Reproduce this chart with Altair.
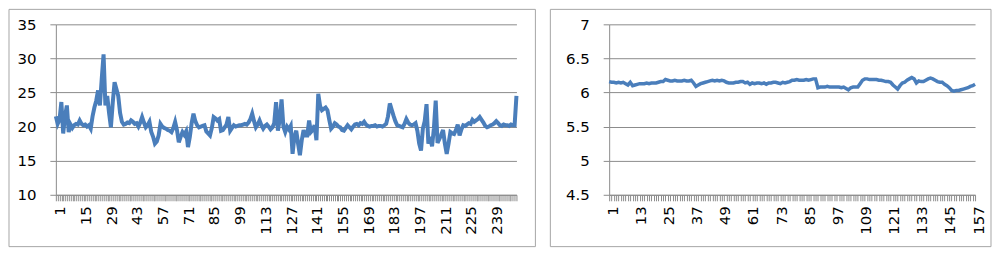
import altair as alt
import pandas as pd

# Left panel series (252 points)
left_values = [
    21.5, 20.4, 21.0, 23.6, 19.0, 21.5, 23.1, 19.2, 20.3, 19.8,
    20.2, 20.4, 20.3, 20.9, 20.4, 20.2, 20.3, 20.0, 20.2, 19.7,
    21.5, 22.8, 23.8, 25.3, 23.1, 27.0, 30.6, 23.1, 24.5, 22.0,
    19.9, 23.5, 26.5, 25.5, 24.5, 22.0, 20.7, 20.3, 20.4, 20.6,
    20.5, 20.9, 20.7, 20.4, 20.5, 20.0, 20.6, 21.4, 20.6, 19.9,
    20.2, 20.7, 19.2, 18.5, 17.5, 17.8, 18.7, 20.4, 20.0, 19.8,
    19.7, 19.5, 19.4, 19.2, 19.8, 20.7, 19.5, 17.7, 18.5, 19.2,
    18.8, 19.3, 17.0, 18.5, 20.5, 21.9, 20.8, 20.2, 19.9, 20.0,
    20.1, 20.2, 19.3, 19.0, 18.7, 19.8, 21.4, 21.2, 20.9, 21.1,
    19.4, 19.5, 19.9, 20.3, 21.4, 19.4, 19.8, 20.2, 20.0, 20.1,
    20.2, 20.2, 20.3, 20.4, 20.3, 20.6, 21.1, 21.9, 20.8, 19.9,
    20.3, 20.9, 20.2, 19.7, 20.1, 20.3, 20.0, 19.6, 19.9, 20.5,
    23.6, 19.4, 21.0, 24.0, 20.0, 19.2, 20.0, 19.6, 20.1, 16.0,
    18.5, 19.4, 17.5, 15.8, 18.0, 19.5, 18.7, 18.7, 20.9, 19.2,
    19.5, 20.2, 18.0, 24.8, 23.0, 22.4, 22.6, 22.8, 22.4, 21.0,
    19.7, 20.0, 20.5, 20.3, 20.0, 19.9, 19.5, 19.4, 19.8, 20.2,
    19.9, 19.6, 20.0, 20.3, 20.4, 20.2, 20.5, 20.4, 20.7, 20.3,
    20.1, 20.0, 20.1, 20.1, 20.2, 20.0, 20.1, 20.1, 20.0, 20.2,
    20.4, 21.5, 23.4, 22.5, 21.6, 20.8, 20.2, 20.1, 20.0, 19.9,
    20.4, 21.1, 20.6, 20.3, 20.2, 20.3, 20.5, 19.4, 17.5, 16.5,
    19.7, 20.8, 23.3, 17.5, 18.5, 17.1, 19.7, 23.8, 17.6, 18.2,
    18.8, 19.5, 17.5, 16.0, 17.5, 19.2, 19.0, 18.9, 19.5, 20.3,
    18.7, 19.6, 20.2, 20.1, 20.3, 20.5, 20.4, 21.0, 20.7, 20.9,
    21.1, 21.4, 21.0, 20.6, 20.1, 19.9, 20.0, 20.2, 20.3, 20.5,
    20.8, 20.5, 20.2, 20.1, 20.3, 20.2, 20.2, 20.1, 20.3, 20.2,
    20.2, 24.5,
]

# Right panel series (157 points)
right_values = [
    6.16, 6.15, 6.15, 6.14, 6.15, 6.14, 6.15, 6.13, 6.11, 6.15,
    6.10, 6.11, 6.12, 6.13, 6.13, 6.13, 6.14, 6.13, 6.14, 6.14,
    6.14, 6.15, 6.16, 6.16, 6.19, 6.18, 6.17, 6.17, 6.18, 6.17,
    6.17, 6.17, 6.18, 6.17, 6.17, 6.18, 6.14, 6.09, 6.11, 6.13,
    6.14, 6.15, 6.16, 6.17, 6.18, 6.17, 6.18, 6.17, 6.18, 6.17,
    6.15, 6.14, 6.14, 6.14, 6.15, 6.15, 6.16, 6.16, 6.14, 6.15,
    6.12, 6.14, 6.13, 6.14, 6.14, 6.13, 6.14, 6.12, 6.14, 6.14,
    6.15, 6.15, 6.14, 6.13, 6.15, 6.14, 6.15, 6.16, 6.18, 6.18,
    6.19, 6.18, 6.18, 6.18, 6.19, 6.18, 6.19, 6.20, 6.20, 6.07,
    6.08, 6.08, 6.08, 6.09, 6.08, 6.08, 6.08, 6.08, 6.08, 6.07,
    6.08, 6.06, 6.04, 6.07, 6.08, 6.08, 6.08, 6.13, 6.18, 6.20,
    6.20, 6.19, 6.19, 6.19, 6.19, 6.18, 6.18, 6.17, 6.16, 6.16,
    6.15, 6.11, 6.08, 6.05, 6.10, 6.14, 6.15, 6.18, 6.20, 6.22,
    6.20, 6.14, 6.17, 6.16, 6.16, 6.18, 6.20, 6.21, 6.20, 6.18,
    6.16, 6.15, 6.15, 6.12, 6.10, 6.07, 6.03, 6.02, 6.03, 6.03,
    6.04, 6.05, 6.06, 6.07, 6.09, 6.10, 6.12,
]

left_y_ticks = [10, 15, 20, 25, 30, 35]
right_y_ticks = [4.5, 5, 5.5, 6, 6.5, 7]
left_label_step = 14
right_label_step = 12

FONT = "DejaVu Sans"
GRAY = "#8C8C8C"
BORDER = "#A6A6A6"
BLUE = "#4A7EBB"


def panel(values, y_ticks, label_step, width, height, left_pad, right_pad, line_w, lab_off):
    n = len(values)
    df = pd.DataFrame({"idx": list(range(1, n + 1)), "value": values})
    x_axis = alt.Axis(
        values=list(range(1, n + 1)),
        labelExpr=f"(datum.value - 1) % {label_step} == 0 ? datum.label : ''",
        format="d",
        labelAngle=270,
        labelAlign="right",
        labelBaseline="middle",
        labelOverlap=False,
        labelFont=FONT,
        labelFontSize=15,
        labelColor="#000000",
        labelPadding=5,
        labelOffset=lab_off,
        tickSize=6,
        tickColor=GRAY,
        tickWidth=1,
        domainColor=GRAY,
        grid=False,
        title=None,
    )
    y_axis = alt.Axis(
        values=y_ticks,
        format="~g",
        labelFont=FONT,
        labelFontSize=15,
        labelColor="#000000",
        labelPadding=14,
        tickSize=6,
        tickColor=GRAY,
        domainColor=GRAY,
        grid=True,
        gridColor=GRAY,
        gridWidth=1,
        title=None,
    )
    line = alt.Chart(df).mark_line(color=BLUE, strokeWidth=line_w).encode(
        x=alt.X("idx:Q", scale=alt.Scale(domain=[1, n], nice=False, zero=False), axis=x_axis),
        y=alt.Y("value:Q", scale=alt.Scale(domain=[y_ticks[0], y_ticks[-1]], nice=False, zero=False), axis=y_axis),
    )
    border = alt.Chart(pd.DataFrame({"a": [0]})).mark_rect(
        fillOpacity=0, stroke=BORDER, strokeWidth=1
    ).encode(
        x=alt.value(-left_pad),
        x2=alt.value(width + right_pad),
        y=alt.value(-15),
        y2=alt.value(223),
    )
    return alt.layer(border, line).properties(width=width, height=height)


left = panel(left_values, left_y_ticks, left_label_step, 462, 171, 47, 19, 4, 4)
right = panel(right_values, right_y_ticks, right_label_step, 367, 171, 59, 16, 3.5, 3)

chart = alt.hconcat(left, right, spacing=13).properties(padding=0).configure_view(stroke=None)

chart.save("out.html", embed_options={"renderer": "svg", "actions": False})
